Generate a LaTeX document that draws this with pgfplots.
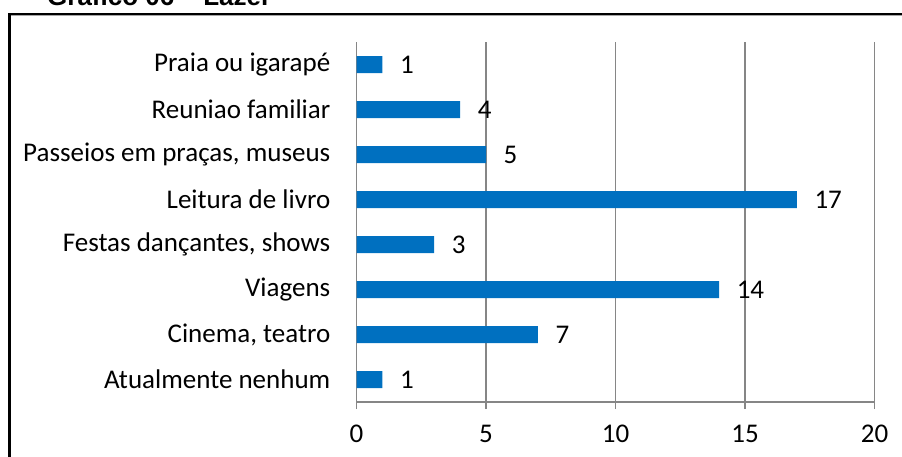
\documentclass[border=0pt]{standalone}
\usepackage{pgfplots}
\pgfplotsset{compat=1.18}
\usepackage{fontspec}
\setmainfont{Carlito}
\newfontfamily\titlefont{Liberation Sans}
\definecolor{barblue}{RGB}{0,112,192}
\definecolor{gridgray}{RGB}{134,134,134}
\begin{document}
\begin{tikzpicture}[x=1pt,y=1pt]
\useasboundingbox (0,0) rectangle (902,456);
\clip (0,0) rectangle (902,456);
% frame
\draw[black!35, line width=1.2pt] (11,440.5) -- (910,440.5);
\draw[black, line width=2.5pt] (9.5,-10) -- (9.5,442.2) -- (910,442.2);
% title
\node[anchor=base west, inner sep=0pt, font=\titlefont\bfseries\fontsize{26}{30}\selectfont] at (47,450) {Gráfico 06 – Lazer};
\begin{axis}[
  at={(356.5pt,54pt)}, anchor=south west,
  scale only axis, width=518pt, height=360pt,
  xmin=0, xmax=20, ymin=-0.5, ymax=7.5,
  /pgf/number format/assume math mode=true,
  xbar, bar width=17pt,
  axis x line*=bottom, axis y line*=left,
  axis line style={gridgray, line width=1.2pt},
  xtick={0,5,10,15,20},
  xtick align=outside, major tick length=7pt,
  xtick style={gridgray, line width=1.2pt},
  xmajorgrids, grid style={gridgray, line width=1.2pt},
  ytick={0,1,2,3,4,5,6,7},
  yticklabels={Atualmente nenhum, {Cinema, teatro}, Viagens, {Festas dançantes, shows}, Leitura de livro, {Passeios em praças, museus}, Reuniao familiar, Praia ou igarapé},
  ytick style={draw=none},
  every tick label/.append style={font=\fontsize{27}{32}\selectfont},
  yticklabel style={anchor=east, inner sep=0pt, xshift=-19pt},
  xticklabel style={anchor=north, inner sep=0pt, yshift=-16pt},
  nodes near coords,
  every node near coord/.append style={anchor=west, inner sep=0pt, xshift=17.5pt, font=\fontsize{27}{32}\selectfont, text=black},
  clip=false,
]
\addplot[fill=barblue, draw=none] coordinates {
  (1,0) (7,1) (14,2) (3,3) (17,4) (5,5) (4,6) (1,7)
};
\end{axis}
\end{tikzpicture}
\end{document}
